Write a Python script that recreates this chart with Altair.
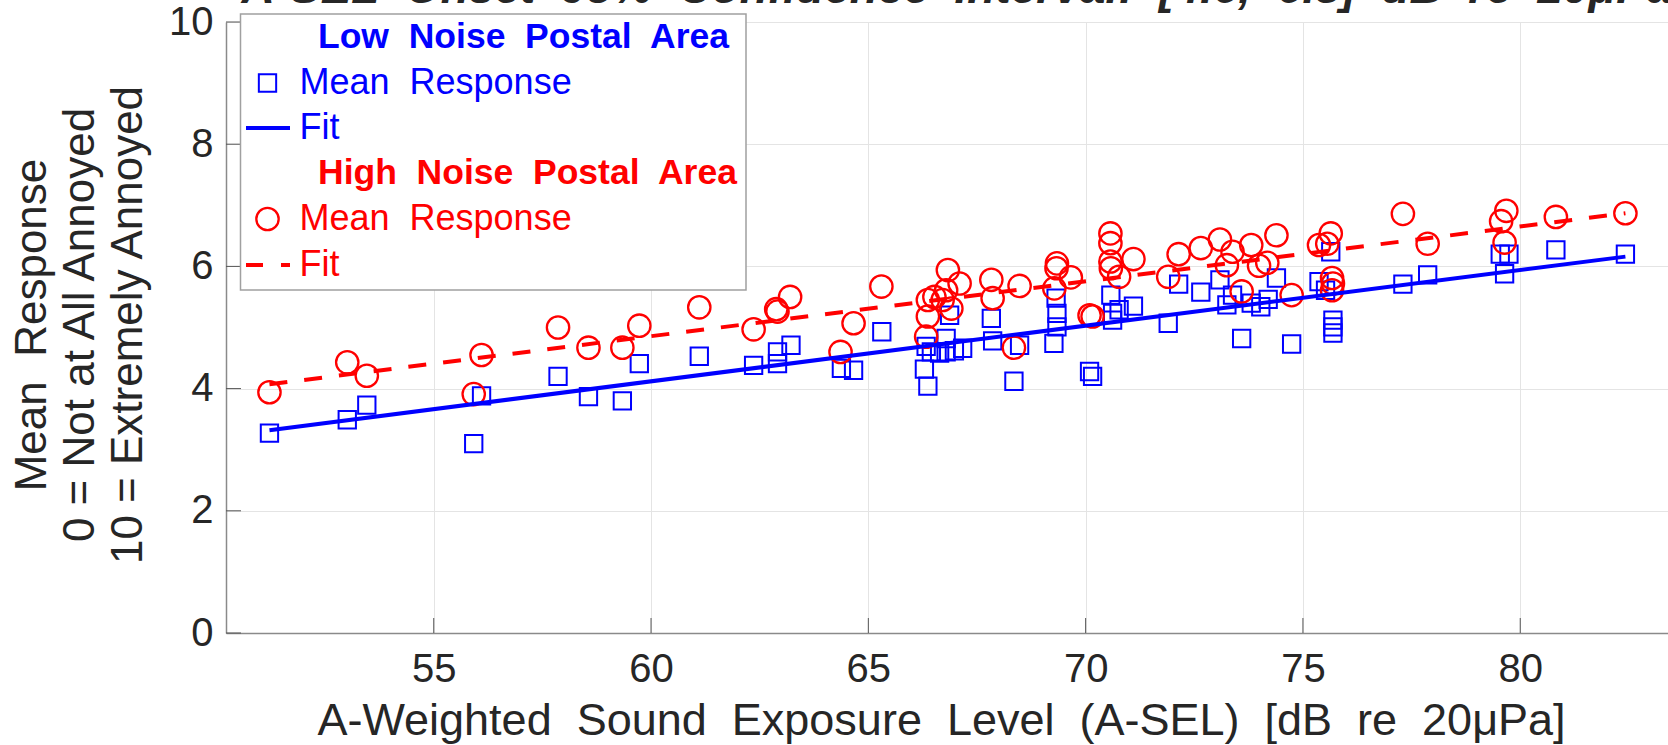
import altair as alt
import pandas as pd

# ---------------- data ----------------
x_low = [51.22, 53.01, 53.46, 55.92, 56.10, 57.86, 58.56, 59.34, 59.73, 61.11,
         62.36, 62.91, 62.91, 63.22, 64.38, 64.66, 65.31, 66.29, 66.37, 66.33,
         66.45, 66.64, 66.79, 66.98, 67.17, 66.79, 66.87, 67.83, 67.86, 68.35,
         68.48, 69.27, 69.34, 69.34, 69.32, 70.09, 70.16, 70.58, 70.62, 70.62,
         70.77, 71.10, 71.90, 72.14, 72.65, 73.09, 73.25, 73.38, 73.59, 73.81,
         74.03, 74.20, 74.39, 74.74, 75.37, 75.52, 75.64, 75.69, 75.69, 75.69,
         77.30, 77.87, 79.54, 79.74, 79.64, 80.82, 82.42]
y_low = [3.27, 3.49, 3.73, 3.10, 3.88, 4.20, 3.87, 3.80, 4.41, 4.53,
         4.38, 4.41, 4.60, 4.71, 4.33, 4.30, 4.93, 4.32, 4.04, 4.69,
         4.60, 4.58, 4.60, 4.62, 4.66, 4.82, 5.20, 5.15, 4.78, 4.12,
         4.71, 4.74, 5.01, 5.23, 5.48, 4.28, 4.20, 5.53, 5.23, 5.12,
         5.29, 5.35, 5.07, 5.71, 5.58, 5.78, 5.37, 5.53, 4.82, 5.40,
         5.34, 5.46, 5.81, 4.73, 5.75, 5.61, 6.24, 5.12, 5.01, 4.91,
         5.71, 5.86, 6.20, 6.20, 5.88, 6.27, 6.20]

x_high = [51.22, 53.01, 53.46, 55.92, 56.10, 57.86, 58.56, 59.34, 59.73, 61.11,
          62.36, 62.88, 62.91, 63.20, 64.36, 64.66, 65.30, 66.33, 66.37, 66.37,
          66.52, 66.71, 66.91, 66.79, 66.83, 67.10, 67.83, 67.86, 68.35, 68.48,
          69.28, 69.34, 69.33, 69.66, 70.09, 70.16, 70.57, 70.57, 70.57, 70.58,
          70.77, 71.10, 71.90, 72.14, 72.65, 73.09, 73.38, 73.25, 73.59, 73.81,
          73.99, 74.18, 74.39, 74.74, 75.37, 75.56, 75.64, 75.67, 75.69, 75.67,
          77.30, 77.87, 79.56, 79.68, 79.64, 80.82, 82.42]
y_high = [3.94, 4.43, 4.21, 3.91, 4.55, 5.00, 4.67, 4.67, 5.03, 5.33,
          4.97, 5.30, 5.26, 5.50, 4.60, 5.07, 5.67, 4.85, 5.18, 5.45,
          5.50, 5.45, 5.31, 5.61, 5.94, 5.72, 5.78, 5.48, 4.67, 5.68,
          5.64, 6.05, 5.97, 5.82, 5.20, 5.18, 6.54, 6.38, 6.08, 5.97,
          5.83, 6.12, 5.83, 6.20, 6.30, 6.44, 6.24, 6.02, 5.59, 6.35,
          6.01, 6.06, 6.51, 5.53, 6.35, 6.37, 6.54, 5.81, 5.72, 5.61,
          6.86, 6.37, 6.74, 6.91, 6.39, 6.81, 6.87]

fit_x = [51.22, 82.42]
fit_low = [3.32, 6.16]
fit_high = [4.07, 6.87]

x_ticks = [55, 60, 65, 70, 75, 80]
y_ticks = [0, 2, 4, 6, 8, 10]

title_text = "A-SEL Onset 95% Confidence Interval: [4.6, 6.8] dB re 20\u03bcPa"
x_title = "A-Weighted Sound Exposure Level (A-SEL) [dB re 20\u03bcPa]"
y_title = ["Mean Response", "0 = Not at All Annoyed", "10 = Extremely Annoyed"]
legend_labels = ["Low Noise Postal Area", "Mean Response", "Fit",
                 "High Noise Postal Area", "Mean Response", "Fit"]


def wide(s):
    return s.replace(" ", "\u00a0 ")


# ---------------- layout / style ----------------
W, H = 1442, 611
FONT = "Liberation Sans"
TXT = "#262626"
BLUE = "#0000ff"
RED = "#ff0000"
X_DOM = [50.22, 83.4]
SQ, CI = 300, 500

xs = alt.Scale(domain=X_DOM, nice=False, zero=False)
ys = alt.Scale(domain=[0, 10], nice=False)

low_df = pd.DataFrame({"x": x_low, "y": y_low})
high_df = pd.DataFrame({"x": x_high, "y": y_high})
fitl_df = pd.DataFrame({"x": fit_x, "y": fit_low})
fith_df = pd.DataFrame({"x": fit_x, "y": fit_high})
one = pd.DataFrame({"a": [0]})

x_axis = alt.Axis(values=x_ticks, grid=True, gridColor="#e4e4e4", gridWidth=1,
                  ticks=False, tickSize=0, domainColor="#8a8a8a", domainWidth=1.5,
                  labelFont=FONT, labelFontSize=40, labelColor=TXT, labelPadding=16,
                  title=wide(x_title), titleFont=FONT, titleFontSize=45,
                  titleFontWeight="normal", titleColor=TXT, titleX=W / 2 - 6, titleY=101,
                  titleAlign="center", titleBaseline="alphabetic", titleAnchor="middle")
y_axis = alt.Axis(values=y_ticks, grid=True, gridColor="#e4e4e4", gridWidth=1,
                  ticks=False, tickSize=0, domainColor="#8a8a8a", domainWidth=1.5,
                  labelFont=FONT, labelFontSize=40, labelColor=TXT, labelPadding=13,
                  title=[wide(y_title[0]), y_title[1], y_title[2]], titleFont=FONT,
                  titleFontSize=44, titleFontWeight="normal", titleColor=TXT,
                  titleX=-181, titleY=H / 2 - 3,
                  titleAngle=270, titleAlign="center", titleBaseline="alphabetic",
                  titleLineHeight=48)

X = alt.X("x:Q", scale=xs, axis=x_axis)
Y = alt.Y("y:Q", scale=ys, axis=y_axis)

low_pts = alt.Chart(low_df).mark_point(shape="square", filled=False, color=BLUE,
                                       size=SQ, strokeWidth=2, opacity=1).encode(x=X, y=Y)
high_pts = alt.Chart(high_df).mark_point(shape="circle", filled=False, color=RED,
                                         size=CI, strokeWidth=2.3, opacity=1).encode(x=X, y=Y)
fit_l = alt.Chart(fitl_df).mark_line(color=BLUE, strokeWidth=4).encode(x=X, y=Y)
fit_h = alt.Chart(fith_df).mark_line(color=RED, strokeWidth=4, strokeDash=[18, 17]).encode(x=X, y=Y)

# inward tick marks (MATLAB style)
xt = alt.Chart(pd.DataFrame({"x": x_ticks})).mark_rule(color="#555555", strokeWidth=1).encode(
    x=X, y=alt.value(H), y2=alt.value(H - 15))
yt = alt.Chart(pd.DataFrame({"y": y_ticks})).mark_rule(color="#555555", strokeWidth=1).encode(
    y=Y, x=alt.value(0), x2=alt.value(15))

layers = [low_pts, high_pts, fit_l, fit_h, xt, yt]

# legend box
layers.append(alt.Chart(one).mark_rect(fill="white", stroke="#a0a0a0", strokeWidth=1.5).encode(
    x=alt.value(14.5), x2=alt.value(520), y=alt.value(-8), y2=alt.value(268)))

row_y = [15, 61, 106, 151, 197, 243]
colors = [BLUE, BLUE, BLUE, RED, RED, RED]
for i, lab in enumerate(legend_labels):
    hdr = i in (0, 3)
    layers.append(alt.Chart(one).mark_text(
        text=wide(lab), font=FONT, fontSize=35.5 if hdr else 36, color=colors[i],
        fontWeight="bold" if hdr else "normal", align="left", baseline="middle").encode(
        x=alt.value(92 if hdr else 73.5), y=alt.value(row_y[i])))

layers.append(alt.Chart(one).mark_point(shape="square", filled=False, color=BLUE,
                                        size=SQ, strokeWidth=2, opacity=1).encode(
    x=alt.value(41.5), y=alt.value(row_y[1])))
layers.append(alt.Chart(one).mark_point(shape="circle", filled=False, color=RED,
                                        size=CI, strokeWidth=2.3, opacity=1).encode(
    x=alt.value(41.5), y=alt.value(row_y[4])))
layers.append(alt.Chart(one).mark_rule(color=BLUE, strokeWidth=4).encode(
    x=alt.value(20), x2=alt.value(64), y=alt.value(row_y[2])))
layers.append(alt.Chart(one).mark_rule(color=RED, strokeWidth=4, strokeDash=[17, 18],
                                       strokeCap="butt").encode(
    x=alt.value(20), x2=alt.value(64), y=alt.value(row_y[5])))

# title (cut off at top like the reference)
layers.append(alt.Chart(one).mark_text(
    text=wide(title_text), font=FONT, fontSize=46, fontWeight="bold", fontStyle="italic",
    color=TXT, align="center", baseline="alphabetic").encode(
    x=alt.value(W / 2 + 10), y=alt.value(-19)))

chart = alt.layer(*layers).properties(
    width=W, height=H,
    autosize=alt.AutoSizeParams(type="none"),
    padding={"left": 226, "top": 22, "right": 0, "bottom": 112},
    background="white",
).configure_view(stroke=None)

chart.save("out.html", embed_options={"renderer": "svg", "actions": False})
